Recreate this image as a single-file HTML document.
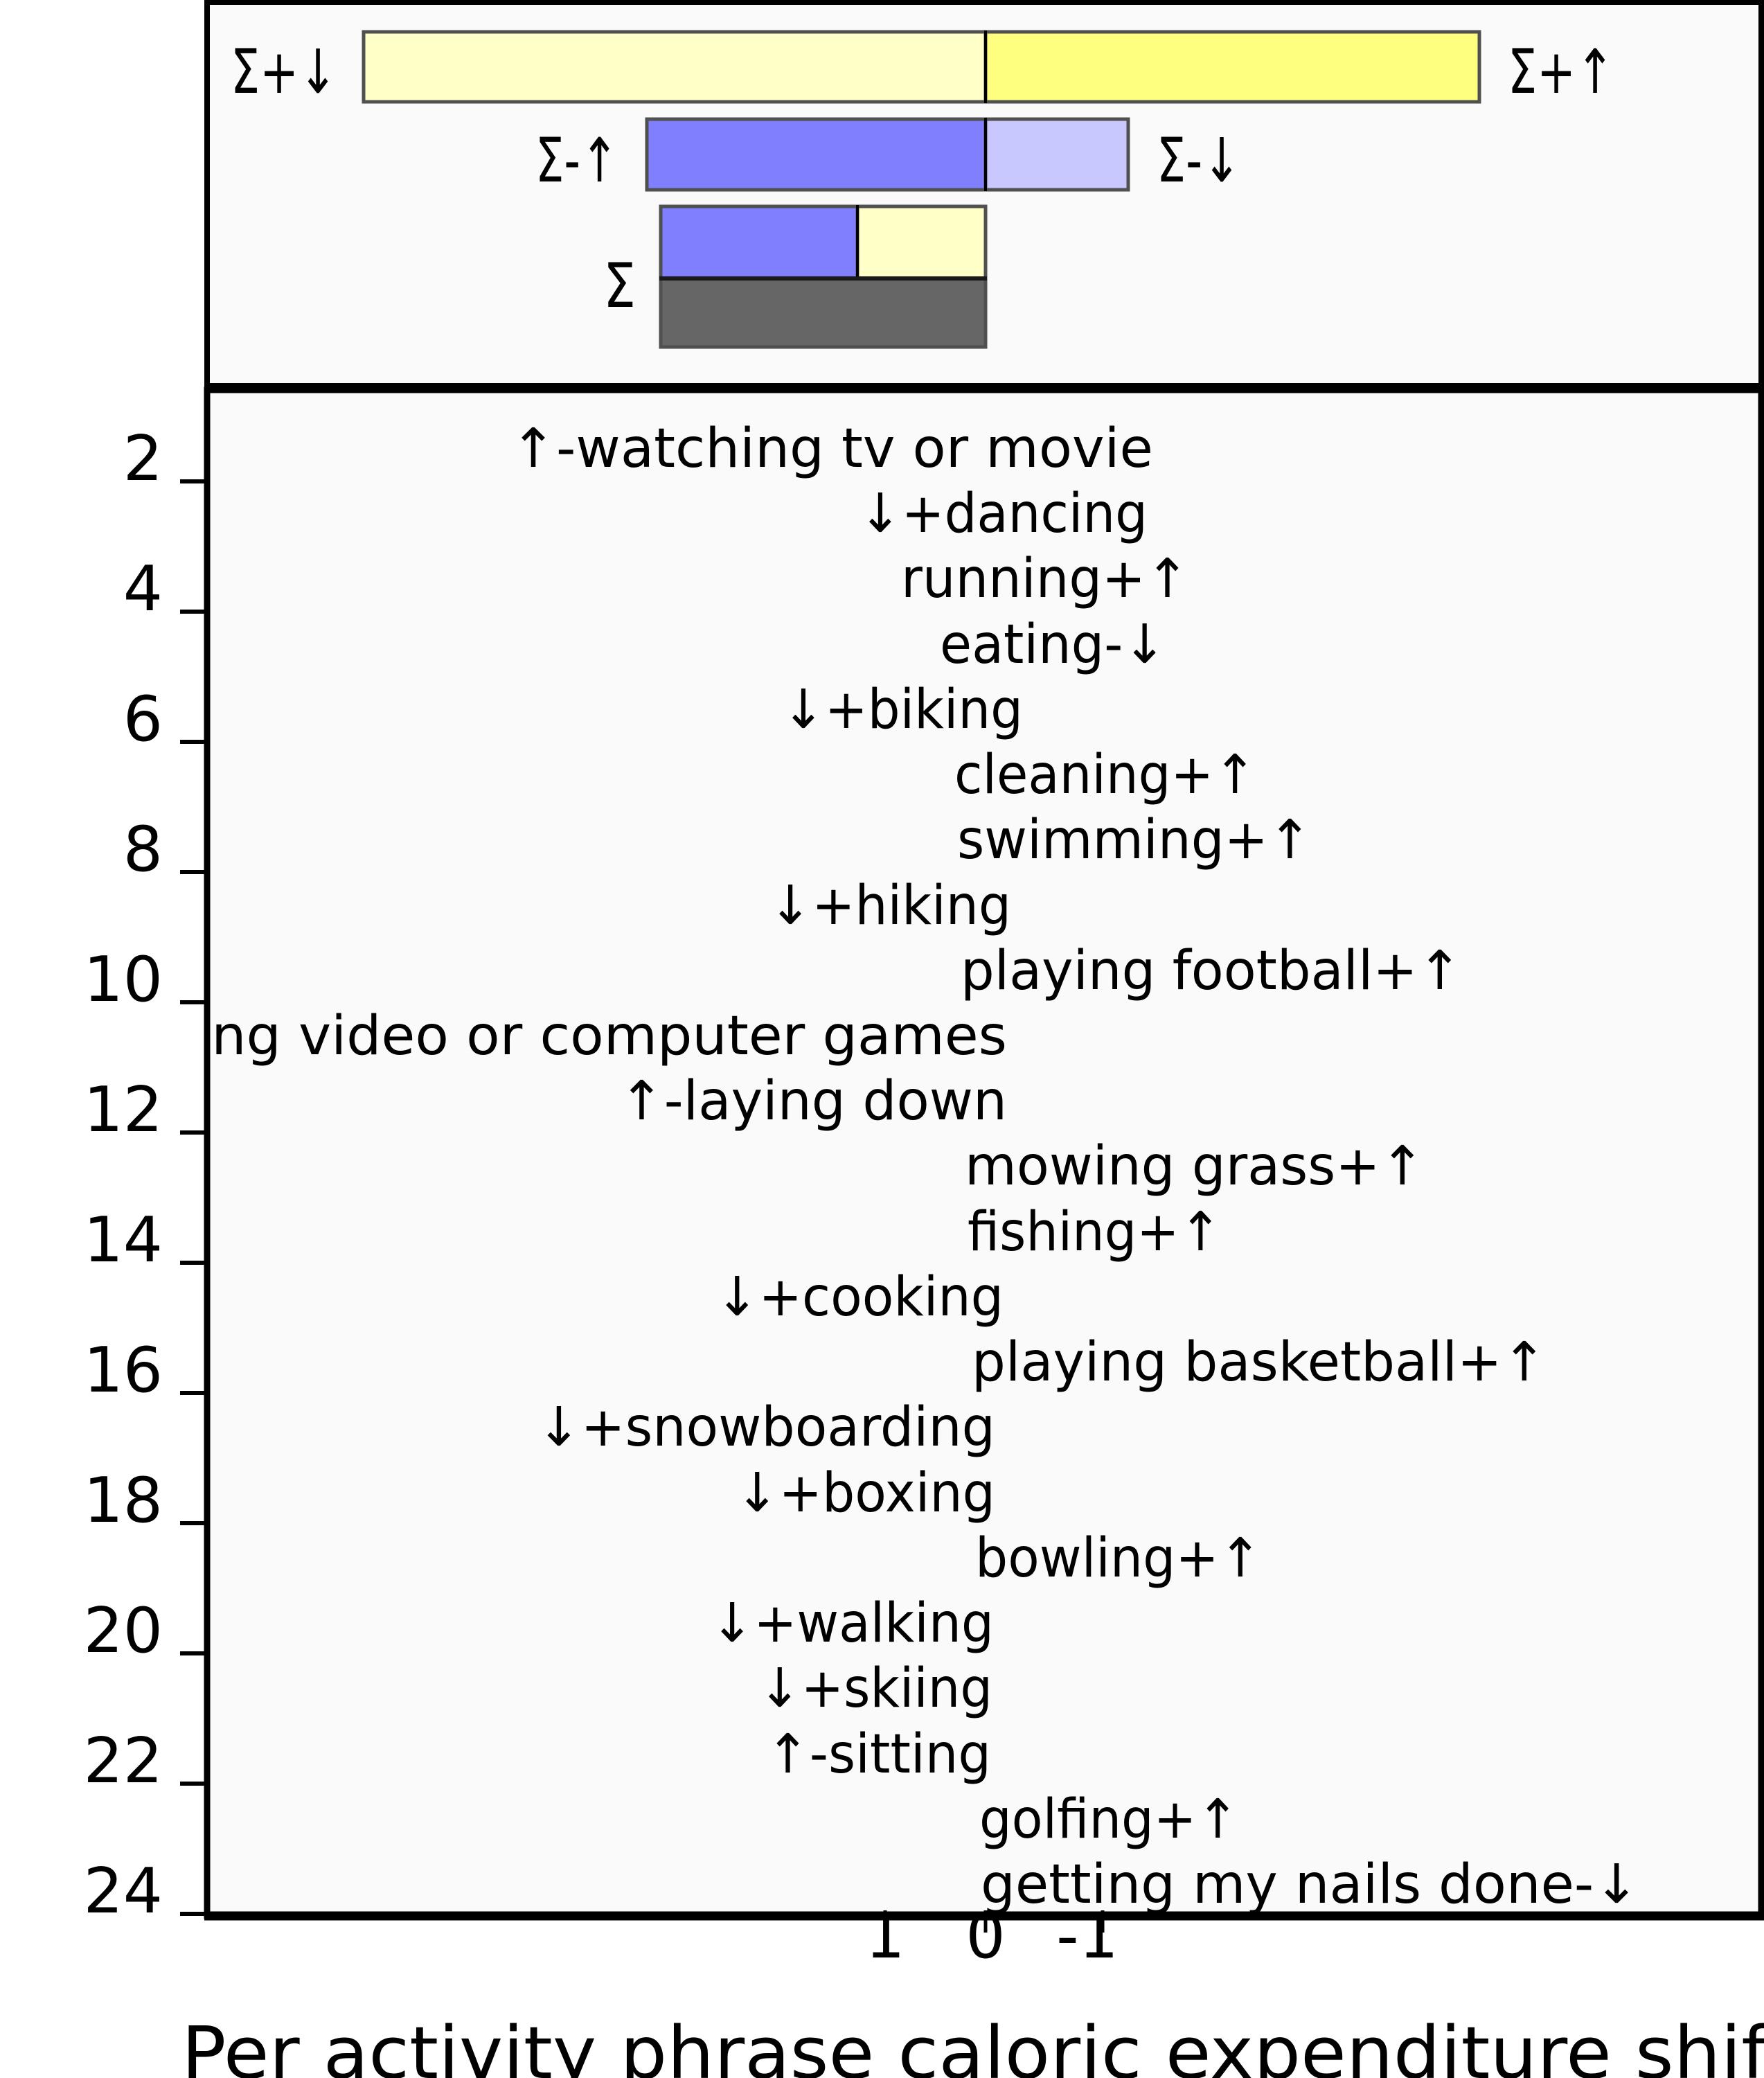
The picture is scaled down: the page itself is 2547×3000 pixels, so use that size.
<!DOCTYPE html>
<html><head><meta charset="utf-8"><style>html,body{margin:0;padding:0;background:#fff}svg{display:block}</style></head>
<body>
<svg width="2547" height="3000" viewBox="0 0 2547 3000" xmlns="http://www.w3.org/2000/svg" font-family="'DejaVu Sans','Liberation Sans',sans-serif">
<defs><clipPath id="pc"><rect x="306" y="566" width="2235" height="2194"/></clipPath></defs>
<rect x="0" y="0" width="2547" height="3000" fill="#fff"/>
<rect x="299" y="3" width="2244" height="556" fill="#fafafa" stroke="#000" stroke-width="8"/>
<rect x="299" y="563" width="2244" height="2203" fill="#fafafa" stroke="#000" stroke-width="9"/>
<line x1="295" y1="559" x2="2547" y2="559" stroke="#000" stroke-width="12"/>

<rect x="525" y="46" width="898" height="101" fill="#ffffc8" stroke="#505050" stroke-width="5"/>
<rect x="1423" y="46" width="713" height="101" fill="#ffff7f" stroke="#505050" stroke-width="5"/>
<line x1="1423" y1="44" x2="1423" y2="149" stroke="#000" stroke-width="4"/>
<rect x="934" y="172" width="489" height="102" fill="#8080ff" stroke="#505050" stroke-width="5"/>
<rect x="1423" y="172" width="206" height="102" fill="#c8c8ff" stroke="#505050" stroke-width="5"/>
<line x1="1423" y1="170" x2="1423" y2="276" stroke="#000" stroke-width="4"/>
<rect x="954" y="298" width="284" height="104" fill="#8080ff" stroke="#505050" stroke-width="5"/>
<rect x="1238" y="298" width="185" height="104" fill="#ffffc8" stroke="#505050" stroke-width="5"/>
<line x1="1238" y1="296" x2="1238" y2="402" stroke="#000" stroke-width="4"/>
<rect x="954" y="402" width="469" height="99" fill="#666" stroke="#505050" stroke-width="5"/>
<line x1="952" y1="402" x2="1425" y2="402" stroke="#1a1a1a" stroke-width="6"/>

<g font-size="88" fill="#000">
<text x="333" y="134" textLength="154" lengthAdjust="spacingAndGlyphs">Σ+↓</text>
<text x="2177" y="134" textLength="154" lengthAdjust="spacingAndGlyphs">Σ+↑</text>
<text x="773" y="262" textLength="120" lengthAdjust="spacingAndGlyphs">Σ-↑</text>
<text x="1670" y="262" textLength="122" lengthAdjust="spacingAndGlyphs">Σ-↓</text>
<text x="871" y="443" textLength="47" lengthAdjust="spacingAndGlyphs">Σ</text>
</g>

<g font-size="78" fill="#000" clip-path="url(#pc)">
<text x="737" y="674" textLength="928" lengthAdjust="spacingAndGlyphs">↑-watching tv or movie</text>
<text x="1240" y="768" textLength="417" lengthAdjust="spacingAndGlyphs">↓+dancing</text>
<text x="1301" y="862" textLength="416" lengthAdjust="spacingAndGlyphs">running+↑</text>
<text x="1357" y="957" textLength="327" lengthAdjust="spacingAndGlyphs">eating-↓</text>
<text x="1129" y="1051" textLength="348" lengthAdjust="spacingAndGlyphs">↓+biking</text>
<text x="1378" y="1145" textLength="436" lengthAdjust="spacingAndGlyphs">cleaning+↑</text>
<text x="1382" y="1239" textLength="512" lengthAdjust="spacingAndGlyphs">swimming+↑</text>
<text x="1110" y="1334" textLength="350" lengthAdjust="spacingAndGlyphs">↓+hiking</text>
<text x="1387" y="1428" textLength="724" lengthAdjust="spacingAndGlyphs">playing football+↑</text>
<text x="20" y="1522" textLength="1434" lengthAdjust="spacingAndGlyphs">↑-playing video or computer games</text>
<text x="894" y="1616" textLength="560" lengthAdjust="spacingAndGlyphs">↑-laying down</text>
<text x="1393" y="1710" textLength="664" lengthAdjust="spacingAndGlyphs">mowing grass+↑</text>
<text x="1397" y="1805" textLength="367" lengthAdjust="spacingAndGlyphs">fishing+↑</text>
<text x="1033" y="1899" textLength="416" lengthAdjust="spacingAndGlyphs">↓+cooking</text>
<text x="1403" y="1993" textLength="830" lengthAdjust="spacingAndGlyphs">playing basketball+↑</text>
<text x="775" y="2087" textLength="662" lengthAdjust="spacingAndGlyphs">↓+snowboarding</text>
<text x="1062" y="2182" textLength="375" lengthAdjust="spacingAndGlyphs">↓+boxing</text>
<text x="1408" y="2276" textLength="414" lengthAdjust="spacingAndGlyphs">bowling+↑</text>
<text x="1026" y="2370" textLength="409" lengthAdjust="spacingAndGlyphs">↓+walking</text>
<text x="1095" y="2464" textLength="338" lengthAdjust="spacingAndGlyphs">↓+skiing</text>
<text x="1106" y="2559" textLength="325" lengthAdjust="spacingAndGlyphs">↑-sitting</text>
<text x="1414" y="2653" textLength="375" lengthAdjust="spacingAndGlyphs">golfing+↑</text>
<text x="1416" y="2747" textLength="951" lengthAdjust="spacingAndGlyphs">getting my nails done-↓</text>
</g>

<g stroke="#000" stroke-width="6">
<line x1="260" y1="695" x2="296" y2="695"/>
<line x1="260" y1="883" x2="296" y2="883"/>
<line x1="260" y1="1071" x2="296" y2="1071"/>
<line x1="260" y1="1259" x2="296" y2="1259"/>
<line x1="260" y1="1447" x2="296" y2="1447"/>
<line x1="260" y1="1635" x2="296" y2="1635"/>
<line x1="260" y1="1823" x2="296" y2="1823"/>
<line x1="260" y1="2011" x2="296" y2="2011"/>
<line x1="260" y1="2199" x2="296" y2="2199"/>
<line x1="260" y1="2387" x2="296" y2="2387"/>
<line x1="260" y1="2575" x2="296" y2="2575"/>
<line x1="260" y1="2763" x2="296" y2="2763"/>
</g>
<g font-size="90" fill="#000" text-anchor="end">
<text x="235" y="693">2</text>
<text x="235" y="881">4</text>
<text x="235" y="1069">6</text>
<text x="235" y="1257">8</text>
<text x="235" y="1445">10</text>
<text x="235" y="1633">12</text>
<text x="235" y="1821">14</text>
<text x="235" y="2009">16</text>
<text x="235" y="2197">18</text>
<text x="235" y="2385">20</text>
<text x="235" y="2573">22</text>
<text x="235" y="2761">24</text>
</g>
<line x1="295" y1="2766" x2="2547" y2="2766" stroke="#000" stroke-width="13"/>

<g stroke="#000" stroke-width="5">
<line x1="1278" y1="2758" x2="1278" y2="2790"/>
<line x1="1423" y1="2758" x2="1423" y2="2790"/>
<line x1="1592" y1="2758" x2="1592" y2="2790"/>
</g>
<g font-size="90" fill="#000" text-anchor="middle">
<text x="1278" y="2826">1</text>
<text x="1423" y="2826">0</text>
<text x="1570" y="2826">-1</text>
</g>

<text x="262" y="3000" font-size="104" fill="#000" textLength="2330" lengthAdjust="spacingAndGlyphs">Per activity phrase caloric expenditure shift</text>
<text transform="translate(-30,1500) rotate(-90)" font-size="100" fill="#000" text-anchor="middle">Activity rank</text>
</svg>
</body></html>
